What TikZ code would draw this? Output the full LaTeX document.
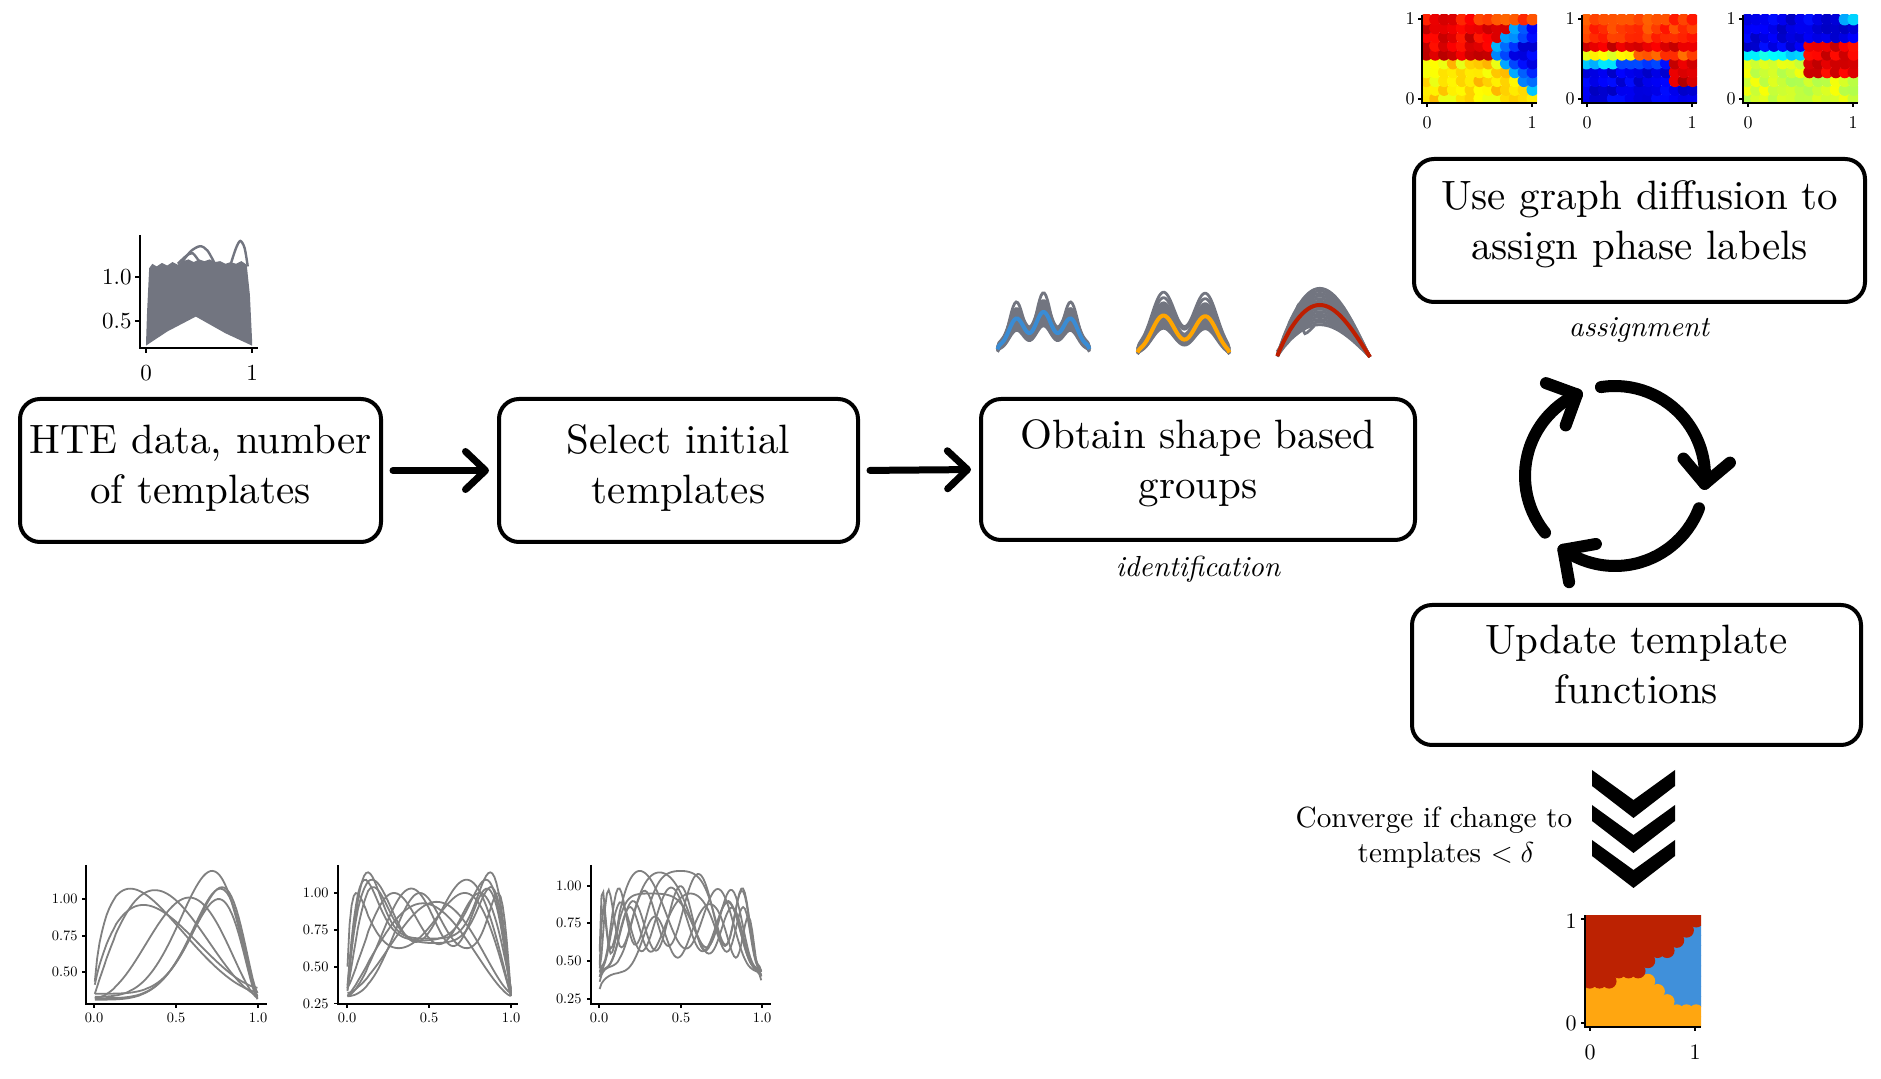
\documentclass[tikz,border=0pt]{standalone}
\usepackage{fontspec}
\setmainfont{lmroman10-regular.otf}[ItalicFont=lmroman10-italic.otf, BoldFont=lmroman10-bold.otf]
\usetikzlibrary{arrows.meta,calc}
\definecolor{htegray}{RGB}{114,117,128}
\definecolor{tplgray}{RGB}{128,128,128}
\definecolor{grpblue}{RGB}{58,140,212}
\definecolor{grporange}{RGB}{255,165,0}
\definecolor{grpred}{RGB}{190,30,0}
\definecolor{phred}{RGB}{188,34,2}
\definecolor{phblue}{RGB}{64,144,218}
\definecolor{phorange}{RGB}{255,166,16}
\tikzset{
  stepbox/.style={draw, line width=2pt, rounded corners=10pt, align=center, inner sep=0pt,
    font=\fontsize{20.5}{25}\selectfont},
  flow/.style={line width=3.5pt, line cap=round, shorten <=5pt, shorten >=4pt,
    -{Straight Barb[length=10pt,width=19pt,round]}},
  cyc/.style={line width=6pt, line cap=round, line join=round},
  axisl/.style={line width=0.6pt},
  tplcurve/.style={draw=tplgray, line width=0.9pt},
  grpcurve/.style={draw=htegray, line width=1.4pt},
  lblA/.style={font=\fontsize{11.5}{13}\selectfont, inner sep=0pt},
  lblH/.style={font=\fontsize{9}{10}\selectfont, inner sep=0pt},
  lblF/.style={font=\fontsize{11}{12}\selectfont, inner sep=0pt},
  lblS/.style={font=\fontsize{7.2}{8}\selectfont, inner sep=0pt},
  itlabel/.style={font=\fontsize{14.5}{16}\selectfont\itshape, inner sep=0pt, anchor=base},
}
\newcommand{\btext}[2]{\raisebox{0pt}[\height][\dimexpr\depth+#1\relax]{\begin{tabular}{@{}c@{}}#2\end{tabular}}}
\newcommand{\heatmap}[2]{%
  \begin{scope}
  \clip (#1,15) rectangle ++(115,88);
  \foreach \j in {0,...,9}{
    \foreach \i in {0,...,12}{
      \pgfmathsetmacro{\uu}{(\i+0.5)/13}
      \pgfmathsetmacro{\vv}{(\j+0.5)/10}
      \pgfmathsetmacro{\tval}{max(0,min(1,#2))}
      \pgfmathsetmacro{\colR}{max(0,min(1,1.5-abs(4*\tval-3)))}
      \pgfmathsetmacro{\colG}{max(0,min(1,1.5-abs(4*\tval-2)))}
      \pgfmathsetmacro{\colB}{max(0,min(1,1.5-abs(4*\tval-1)))}
      \definecolor{cellc}{rgb}{\colR,\colG,\colB}
      \fill[cellc] ({#1+(\i+0.5)*8.846},{103-(\j+0.5)*8.8}) circle[radius=6.1];
    }
  }
  \end{scope}
}
\newcommand{\heataxes}[2]{%
  \draw[axisl] (#1,15) -- (#1,103) -- ({#1+115},103);
  \draw[axisl] (#1,19) -- ({#1-4},19) (#1,99) -- ({#1-4},99);
  \draw[axisl] ({#1+5},103) -- ({#1+5},107) ({#1+110},103) -- ({#1+110},107);
  \node[lblH, anchor=east] (#2y1) at ({#1-7},19) {1};
  \node[lblH, anchor=east] (#2y0) at ({#1-7},99) {0};
  \node[lblH] (#2x0) at ({#1+5},123) {0};
  \node[lblH] (#2x1) at ({#1+110},123) {1};
}
\begin{document}
\begin{tikzpicture}[x=0.5pt,y=-0.5pt]
\useasboundingbox (0,0) rectangle (1881,1079);
\pgfmathsetseed{5}

% ---------------- boxes ----------------
\node[stepbox, minimum width=180.5pt, minimum height=71.5pt] (hte) at (200.5,470.5) {\btext{2.4pt}{HTE data, number\\of templates}};
\node[stepbox, minimum width=179.5pt, minimum height=71.5pt] (sel) at (678.5,470.5) {\btext{2.4pt}{Select initial\\templates}};
\node[stepbox, minimum width=217pt, minimum height=70.5pt] (obt) at (1198,469.5) {\btext{6pt}{Obtain shape based\\groups}};
\node[stepbox, minimum width=225.5pt, minimum height=71.5pt] (use) at (1639.5,230.5) {\btext{6pt}{Use graph diffusion to\\assign phase labels}};
\node[stepbox, minimum width=224.5pt, minimum height=70pt] (upd) at (1636.5,675) {\btext{6pt}{Update template\\functions}};

\draw[flow] (hte.east) -- (sel.west);
\draw[flow] (sel.east) -- (obt.west);

\node[itlabel] (idlab) at (1198,577) {identification};
\node[itlabel] (aslab) at (1639,337) {assignment};

% ---------------- cycle ----------------
\coordinate (cc) at (1615,476);
\foreach \s/\e in {-99/5, 21/125, 141/245}{
  \draw[cyc] ($(cc)+(\s:90)$) arc[start angle=\s, end angle=\e, radius=90];
  \draw[cyc] ($(cc)+(\e:90)+(\e+225:33)$) -- ($(cc)+(\e:90)$) -- ($(cc)+(\e:90)+(\e-45:33)$);
}

% ---------------- chevrons ----------------
\foreach \k in {0,1,2}{
  \fill (1592,{770+35*\k}) -- (1633.5,{800+35*\k}) -- (1675,{770+35*\k}) -- (1675,{786+35*\k})
    -- (1633.5,{818+35*\k}) -- (1592,{786+35*\k}) -- cycle;
}
\node[font=\fontsize{14.6}{17.5}\selectfont, align=center, inner sep=0pt] (conv) at (1434,838) {Converge if change to\\\hspace*{12pt}templates $<\delta$};

% ---------------- HTE data plot ----------------
\begin{scope}[shift={(146,365)}, xscale=106, yscale=-88]
  \fill[htegray] (0,0.24) -- (0.01,0.6) -- (0.03,1.1) -- (0.06,1.15) -- (0.1,1.12) -- (0.15,1.16) -- (0.2,1.13)
    -- (0.25,1.17) -- (0.3,1.14) -- (0.35,1.18) -- (0.4,1.2) -- (0.45,1.17) -- (0.5,1.2) -- (0.55,1.18)
    -- (0.6,1.2) -- (0.65,1.17) -- (0.7,1.18) -- (0.75,1.15) -- (0.8,1.17) -- (0.85,1.15) -- (0.9,1.18)
    -- (0.95,1.14) -- (0.98,0.8) -- (1,0.3) -- (1,0.22) -- (0.75,0.36) -- (0.47,0.55) -- (0.2,0.38) -- (0,0.22) -- cycle;
  \draw[htegray, line width=1.2pt] plot[smooth] coordinates {(0.33,1.15) (0.42,1.29) (0.51,1.35) (0.58,1.3) (0.65,1.15)};
  \draw[htegray, line width=1.2pt] plot[smooth] coordinates {(0.3,1.15) (0.38,1.24) (0.44,1.27) (0.5,1.18)};
  \draw[htegray, line width=1.2pt] plot[smooth] coordinates {(0.8,1.15) (0.85,1.33) (0.89,1.41) (0.93,1.33) (0.96,1.12)};
\end{scope}
\draw[axisl] (140,235) -- (140,348) -- (258,348);
\draw[axisl] (146,348) -- (146,353) (252,348) -- (252,353) (140,277) -- (135,277) (140,321) -- (135,321);
\node[lblA, anchor=east] (htey1) at (132,277) {1.0};
\node[lblA, anchor=east] (htey0) at (132,321) {0.5};
\node[lblA] (htex0) at (146,373) {0};
\node[lblA] (htex1) at (252,373) {1};

% ---------------- shape based groups ----------------
\begin{scope}[shift={(997,358)}, xscale=93, yscale=-46]
  \foreach \a in {0.7,0.75,...,1.27}{
    \draw[grpcurve] plot[domain=0.005:0.995, samples=60] (\x,{\a*(sin(180*\x))^0.3*(0.78+0.22*cos(1200*(\x-0.5)))});
  }
  \draw[grpcurve] plot[domain=0.005:0.995, samples=60] (\x,{1.42*(sin(180*\x))^0.3*(0.7+0.3*cos(1200*(\x-0.5)))});
  \draw[grpblue, line width=2pt] plot[domain=0.005:0.995, samples=60] (\x,{(sin(180*\x))^0.3*(0.78+0.22*cos(1200*(\x-0.5)))});
\end{scope}
\begin{scope}[shift={(1137,358)}, xscale=93, yscale=-46]
  \foreach \a in {0.7,0.75,...,1.32}{
    \draw[grpcurve] plot[domain=0.005:0.995, samples=60] (\x,{\a*(sin(180*\x))^0.3*(0.7+0.3*cos(750*(\x-0.27)))});
  }
  \draw[grpcurve] plot[domain=0.005:0.995, samples=60] (\x,{1.42*(sin(180*\x))^0.3*(0.72+0.28*cos(750*(\x-0.27)))});
  \draw[grpcurve] plot[domain=0.005:0.995, samples=60] (\x,{1.55*(sin(180*\x))^0.3*(0.72+0.28*cos(750*(\x-0.27)))});
  \draw[grporange, line width=2pt] plot[domain=0.005:0.995, samples=60] (\x,{(sin(180*\x))^0.3*(0.7+0.3*cos(750*(\x-0.27)))});
\end{scope}
\begin{scope}[shift={(1277,357)}, xscale=93, yscale=-52]
  \foreach \a in {0.62,0.67,...,1.35}{
    \draw[grpcurve] plot[domain=0.003:1, samples=60] (\x,{\a*sin(180*(\x)^0.893)});
  }
  \draw[grpcurve] plot[smooth] coordinates {(0,0.1) (0.15,0.55) (0.23,1.0) (0.27,0.7) (0.3,0.45) (0.4,0.6)};
  \draw[grpred, line width=2pt] plot[domain=0.003:1, samples=60] (\x,{sin(180*(\x)^0.893)});
\end{scope}

% ---------------- heatmaps ----------------
\heatmap{1422}{ifthenelse(\vv>0.9, 0.8+0.08*(\uu<0.5), ifthenelse(\uu>max(0.95-0.75*(\vv-0.1),0.7+0.9*(\vv-0.75)), max(0.1,0.33-(\uu-max(0.95-0.75*(\vv-0.1),0.7+0.9*(\vv-0.75)))), ifthenelse(\vv>0.5, 0.9, 0.65)))+0.1*(rnd-0.5)}
\heatmap{1582}{ifthenelse(\vv>0.6, 0.82+0.08*(\vv<0.7), ifthenelse(\vv>0.5, ifthenelse(\uu<0.45,0.62,0.8), ifthenelse((\uu>0.78)&&(\vv>0.15), 0.93, ifthenelse(\vv>0.4, ifthenelse(\uu<0.3,0.33,0.18), 0.1))))+0.08*(rnd-0.5)}
\heatmap{1743}{ifthenelse((\uu>0.55)&&(\vv>0.3)&&(\vv<0.72), 0.9, ifthenelse(\vv>0.55, ifthenelse((\uu>0.85)&&(\vv>0.85),0.3,0.1), ifthenelse(\vv>0.45, 0.36, 0.58)))+0.08*(rnd-0.5)}
\heataxes{1422}{hA}
\heataxes{1582}{hB}
\heataxes{1743}{hC}

% ---------------- final phase map ----------------
\begin{scope}
  \clip (1585,915) rectangle (1701,1027);
  \foreach \pass in {2,1,0}{
    \ifcase\pass\def\pcol{phred}\or\def\pcol{phorange}\or\def\pcol{phblue}\fi
    \foreach \j in {0,...,10}{
      \foreach \i in {0,...,11}{
        \pgfmathsetmacro{\uu}{(\i+0.5)/12}
        \pgfmathsetmacro{\vv}{(\j+0.5)/11}
        \pgfmathtruncatemacro{\lab}{ifthenelse(((\uu<0.22)&&(\vv>0.4))||((\uu<0.5)&&(\vv>0.48))||((\uu>=0.5)&&(\vv>0.48+0.9*(\uu-0.5))), 0, ifthenelse((\uu>0.5)&&(\vv>max(0.18,0.48-0.88*(\uu-0.5))), 2, 1))}
        \ifnum\lab=\pass
          \fill[\pcol] ({1585+(\i+0.5)*9.667},{1027-(\j+0.5)*10.18}) circle[radius=7.4];
        \fi
      }
    }
  }
\end{scope}
\draw[axisl] (1585,915) -- (1585,1027) -- (1701,1027);
\draw[axisl] (1585,919) -- (1581,919) (1585,1023) -- (1581,1023) (1590,1027) -- (1590,1031) (1695,1027) -- (1695,1031);
\node[lblF, anchor=east] (fy1) at (1577,921) {1};
\node[lblF, anchor=east] (fy0) at (1577,1023) {0};
\node[lblF] (fx0) at (1590,1052) {0};
\node[lblF] (fx1) at (1695,1052) {1};

% ---------------- bottom template plots ----------------
% plot A
\begin{scope}[shift={(94.3,1047)}, xscale=163.7, yscale=-148]
  \foreach \pc/\ph/\pb in {0.22/1.07/0.37, 0.37/1.06/0.35, 0.30/0.96/0.40, 0.58/1.01/0.33, 0.72/1.19/0.34, 0.77/1.07/0.33, 0.78/1.08/0.36, 0.76/1.00/0.32}{
    \pgfmathsetmacro{\pw}{ln(0.5)/ln(\pc)}
    \draw[tplcurve] plot[domain=0.003:0.997, samples=70] (\x,{\pb+(\ph-\pb)*(sin(180*(\x)^\pw))^1.5});
  }
\end{scope}
\draw[axisl] (86,865) -- (86,1004) -- (267,1004);
\draw[axisl] (94,1004) -- (94,1008) (176,1004) -- (176,1008) (258,1004) -- (258,1008);
\draw[axisl] (86,899) -- (82,899) (86,936) -- (82,936) (86,972) -- (82,972);
\node[lblS, anchor=east] (ay1) at (78,899) {1.00};
\node[lblS, anchor=east] (ay2) at (78,936) {0.75};
\node[lblS, anchor=east] (ay3) at (78,972) {0.50};
\node[lblS] (ax0) at (94,1018) {0.0};
\node[lblS] (ax1) at (176,1018) {0.5};
\node[lblS] (ax2) at (258,1018) {1.0};
% plot B
\begin{scope}[shift={(347,1040.3)}, xscale=164, yscale=-147.3]
  \foreach \pw/\pa/\ph/\pb in {1/0.85/1.14/0.3, 0.9/0.7/1.09/0.32, 1.1/0.75/1.04/0.33, 0.8/0/1.09/0.3, 1.6/0/1.03/0.3, 1.2/0/1.0/0.35, 0.6/0.3/1.0/0.3, 2.2/0.4/1.0/0.3}{
    \draw[tplcurve] plot[domain=0.003:1, samples=80] (\x,{\pb+(\ph-\pb)*(sin(180*((\x)^\pw+\pa*sin(360*(\x)^\pw)/6.283))+0.5*sin(540*((\x)^\pw+\pa*sin(360*(\x)^\pw)/6.283)))/1.075});
  }
  \draw[tplcurve] plot[domain=0.003:0.997, samples=60] (\x,{0.3+0.63*(sin(180*(\x)^0.9))^1.4});
  \draw[tplcurve] plot[domain=0.003:0.997, samples=60] (\x,{0.32+0.62*(sin(180*(\x)^1.15))^1.4});
\end{scope}
\draw[axisl] (338,865) -- (338,1004) -- (518,1004);
\draw[axisl] (347,1004) -- (347,1008) (429,1004) -- (429,1008) (511,1004) -- (511,1008);
\draw[axisl] (338,893) -- (334,893) (338,930) -- (334,930) (338,967) -- (334,967) (338,1003.5) -- (334,1003.5);
\node[lblS, anchor=east] (by1) at (329,893) {1.00};
\node[lblS, anchor=east] (by2) at (329,930) {0.75};
\node[lblS, anchor=east] (by3) at (329,967) {0.50};
\node[lblS, anchor=east] (by4) at (329,1003.5) {0.25};
\node[lblS] (bx0) at (347,1018) {0.0};
\node[lblS] (bx1) at (429,1018) {0.5};
\node[lblS] (bx2) at (511,1018) {1.0};
% plot C
\begin{scope}[shift={(599,1036.7)}, xscale=163, yscale=-150.7]
  \foreach \pw/\pa/\ph/\pb in {1/0.8/1.1/0.3, 0.7/0.6/1.09/0.28, 1/0/1.0/0.3, 1.4/0.3/1.08/0.3, 0.5/0.5/1.1/0.26, 1.2/0.6/0.95/0.32, 0.85/0.2/0.99/0.3, 1.8/0.5/0.88/0.3, 0.6/0.9/0.95/0.3}{
    \draw[tplcurve] plot[domain=0.004:0.996, samples=90] (\x,{\pb+(\ph-\pb)*(sin(180*((\x)^\pw+\pa*sin(360*(\x)^\pw)/6.283)))^0.3*(0.7+0.3*cos(1200*((\x)^\pw+\pa*sin(360*(\x)^\pw)/6.283-0.5)))});
  }
\end{scope}
\draw[axisl] (591,865) -- (591,1004) -- (771,1004);
\draw[axisl] (599,1004) -- (599,1008) (681,1004) -- (681,1008) (762,1004) -- (762,1008);
\draw[axisl] (591,886) -- (587,886) (591,923) -- (587,923) (591,961) -- (587,961) (591,999) -- (587,999);
\node[lblS, anchor=east] (cy1) at (582,886) {1.00};
\node[lblS, anchor=east] (cy2) at (582,923) {0.75};
\node[lblS, anchor=east] (cy3) at (582,961) {0.50};
\node[lblS, anchor=east] (cy4) at (582,999) {0.25};
\node[lblS] (cx0) at (599,1018) {0.0};
\node[lblS] (cx1) at (681,1018) {0.5};
\node[lblS] (cx2) at (762,1018) {1.0};
\end{tikzpicture}
\end{document}
